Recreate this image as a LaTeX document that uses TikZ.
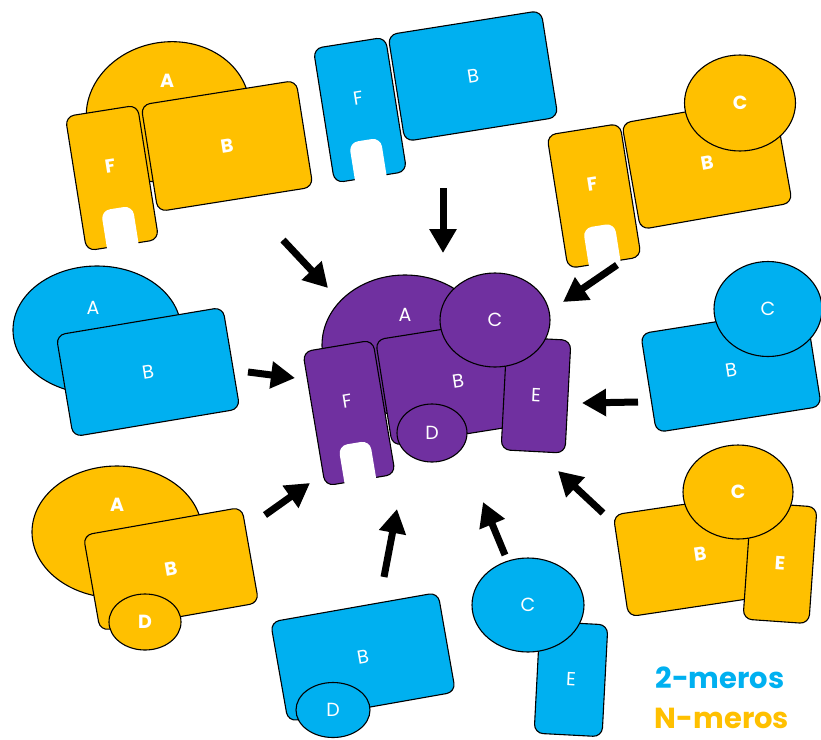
\documentclass[tikz,border=0pt]{standalone}
\usepackage{fontspec}
\setmainfont{Poppins}
\usetikzlibrary{shapes.geometric,arrows.meta}

\definecolor{dimer}{HTML}{00B0F0}
\definecolor{nmer}{HTML}{FFC000}
\definecolor{cplx}{HTML}{7030A0}
\newcommand\partfont{\fontsize{19}{19}\selectfont}

\begin{document}
\begin{tikzpicture}[
    x=1pt, y=-1pt,
    part/.style={draw=black, line width=1.1pt, text=white, font=\partfont, inner sep=0pt},
    block/.style={part, rectangle, rounded corners=9pt},
    blob/.style={part, ellipse},
    slab/.style={block, text depth=24pt},
    wh/.style 2 args={minimum width=#1pt, minimum height=#2pt},
    bl/.style={fill=dimer},
    ny/.style={fill=nmer, font=\partfont\bfseries},
    pu/.style={fill=cplx},
    lbl/.style={text=white, font=\partfont},
    nlbl/.style={lbl, font=\partfont\bfseries},
    notch/.style={white, rounded corners=9pt},
    push/.style={-{Triangle[length=24pt,width=26pt]}, line width=7pt},
    key/.style={font=\fontsize{29}{29}\selectfont\bfseries, inner sep=1pt},
]
\useasboundingbox (0,0) rectangle (821,739);

% Top left, N-mer
\node[blob, ny, wh={164}{140}, rotate=9] (a1) at (168,112) {};
\node[nlbl] (a1l) at (167,81) {A};
\node[block, ny, wh={157}{108}, rotate=9] (b1) at (227,146) {B};
\node[slab, ny, wh={73}{136}, rotate=9] (f1) at (112,178) {F};
\fill[notch, shift={(f1.south)}, rotate=9] (-16,12) rectangle (16,-38);

% Top, dimer
\node[block, bl, wh={155}{108}, rotate=9] (b2) at (473,76) {B};
\node[slab, bl, wh={73}{136}, rotate=9] (f2) at (360,110) {F};
\fill[notch, shift={(f2.south)}, rotate=9] (-16,12) rectangle (16,-38);

% Top right, N-mer
\node[block, ny, wh={154}{108}, rotate=10] (b3) at (707,163) {B};
\node[slab, ny, wh={74}{135}, rotate=9] (f3) at (594,196) {F};
\fill[notch, shift={(f3.south)}, rotate=9] (-16,12) rectangle (16,-38);
\node[blob, ny, wh={111}{96}] (c3) at (740,103) {C};

% Centre, full complex
\node[blob, pu, wh={166}{140}] (a4) at (405,345) {};
\node[lbl] (a4l) at (405,315) {A};
\node[block, pu, wh={150}{107}, rotate=9] (b4) at (458,381) {B};
\node[slab, pu, wh={71}{136}, rotate=9.5] (f4) at (349,413) {F};
\fill[notch, shift={(f4.south)}, rotate=9.5] (-16,12) rectangle (16,-38);
\node[block, pu, wh={64}{113}, rotate=-3] (e4) at (536,395) {E};
\node[blob, pu, wh={110}{94}] (c4) at (495,320) {C};
\node[blob, pu, wh={70}{58}] (d4) at (432,433) {D};

% Left, dimer
\node[blob, bl, wh={168}{128}] (a5) at (97,330) {};
\node[lbl] (a5l) at (93,308) {A};
\node[block, bl, wh={169}{103}, rotate=9.5] (b5) at (148,372) {B};

% Right, dimer
\node[block, bl, wh={167}{100}, rotate=9] (b6) at (731,370) {B};
\node[blob, bl, wh={108}{95}] (c6) at (768,309) {C};

% Bottom left, N-mer
\node[blob, ny, wh={170}{132}] (a7) at (117,532) {};
\node[nlbl] (a7l) at (117,505) {A};
\node[block, ny, wh={161}{97}, rotate=10] (b7) at (171,569) {B};
\node[blob, ny, wh={72}{56}] (d7) at (145,622) {D};

% Bottom right, N-mer
\node[block, ny, wh={160}{103}, rotate=8.5] (b8) at (700,554) {B};
\node[block, ny, wh={66}{117}, rotate=-4] (e8) at (780,563) {E};
\node[blob, ny, wh={110}{94}] (c8) at (738,492) {C};

% Bottom, dimers
\node[block, bl, wh={170}{101}, rotate=10] (b9) at (363,657) {B};
\node[blob, bl, wh={74}{55}] (d9) at (333,710) {D};
\node[block, bl, wh={68}{112}, rotate=-3] (e10) at (571,679) {E};
\node[blob, bl, wh={112}{94}] (c10) at (528,605) {C};

% Arrows into the complex
\foreach \i/\ax/\ay/\bx/\by in {1/283/240/328/288, 2/443/188/443/253, 3/617/265/563/302,
    4/248/372/295/378, 5/638/402/582/403, 6/265/515/310/483,
    7/384/577/397/509, 8/505/555/483/502, 9/603/513/558/471}{
  \coordinate (tail\i) at (\ax,\ay);
  \coordinate (tip\i) at (\bx,\by);
  \draw[push] (tail\i) -- (tip\i);
}

% Legend
\node[key, text=dimer] (key2) at (720,678) {2-meros};
\node[key, text=nmer] (keyn) at (722,718) {N-meros};

\end{tikzpicture}
\end{document}
